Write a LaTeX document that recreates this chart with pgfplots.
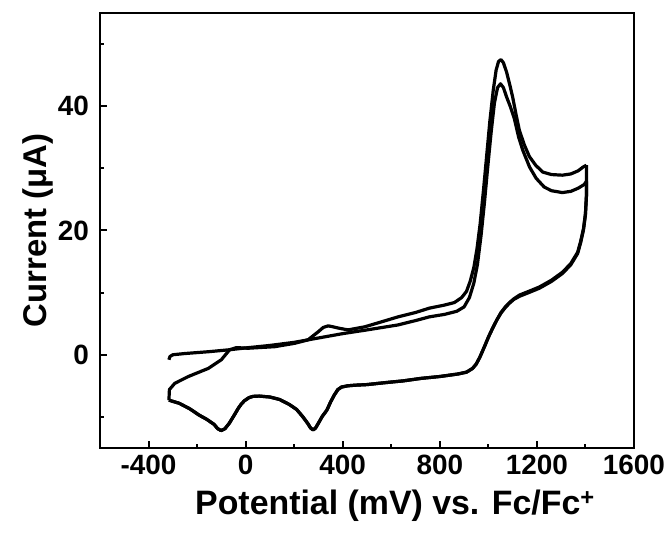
\documentclass[border=0pt]{standalone}
\usepackage{fontspec}
\setmainfont{Liberation Sans}
\usepackage{pgfplots}
\pgfplotsset{compat=1.18}

\newcommand{\tl}[1]{{\fontsize{28}{32}\selectfont\bfseries #1}}

\begin{document}
\begin{tikzpicture}
\begin{axis}[
    width=534bp, height=435bp, scale only axis,
    xmin=-600, xmax=1600, ymin=-15, ymax=55,
    xtick={-400,0,400,800,1200,1600},
    xticklabels={\tl{-400},\tl{0},\tl{400},\tl{800},\tl{1200},\tl{1600}},
    minor xtick={-200,200,600,1000,1400},
    ytick={0,20,40},
    yticklabels={\tl{0},\tl{20},\tl{40}},
    minor ytick={-10,10,30,50},
    tick pos=left, tick align=inside,
    major tick length=7bp, minor tick length=4bp,
    every tick/.style={line width=2bp, black},
    axis line style={line width=2.6bp},
    tick label style={inner sep=2bp},
    xticklabel style={yshift=-5bp},
    yticklabel style={xshift=-9bp},
    every axis x label/.style={at={([xshift=28bp,yshift=-58bp]axis description cs:0.5,0)},
        anchor=center, font=\bfseries\fontsize{34}{39}\selectfont},
    every axis y label/.style={at={([xshift=-62bp]axis description cs:0,0.5)},
        rotate=90, anchor=center, font=\bfseries\fontsize{33}{38}\selectfont},
    xlabel={Potential (mV) vs. Fc/Fc\textsuperscript{+}},
    ylabel={Current (μA)},
]
% cycle 1, forward
\addplot[black, line width=3.2bp, line join=round] coordinates {
(-316,-0.8) (-312,-0.3) (-300,0.0) (-250,0.2) (-150,0.5) (-68,0.8) (0,1.1)
(100,1.5) (200,2.0) (300,2.7) (400,3.4) (500,4.0) (628,4.8) (700,5.5)
(757,6.1) (820,6.5) (870,7.0) (900,7.7) (922,9.2) (940,11.5) (955,14.5)
(970,19.2) (984,24.5) (997,30.0) (1011,35.6) (1025,40.5) (1038,43.0)
(1050,43.6) (1062,43.0) (1075,41.5) (1090,40.0) (1107,38.0) (1125,35.0)
(1142,32.9) (1170,30.2) (1197,28.4) (1230,27.0) (1260,26.4) (1305,26.1)
(1340,26.3) (1370,26.8) (1395,27.4) (1404,27.9)
};
% cycle 1, reverse
\addplot[black, line width=3.2bp, line join=round] coordinates {
(1404,27.9) (1404,25.4) (1400,22.5) (1392,20.1) (1380,18.0) (1368,16.3)
(1340,14.5) (1306,13.1) (1260,11.8) (1210,10.7) (1160,9.9) (1128,9.4)
(1105,8.9) (1087,8.3) (1070,7.6) (1052,6.7) (1035,5.6) (1018,4.3)
(1000,2.8) (985,1.4) (965,-0.4) (950,-1.5) (935,-2.2) (910,-2.8)
(874,-3.1) (800,-3.5) (723,-3.8) (650,-4.2) (572,-4.5) (500,-4.8)
(450,-4.9) (420,-5.0) (395,-5.2) (380,-5.6) (365,-6.5) (350,-7.6)
(335,-8.9) (316,-9.9) (300,-11.0) (288,-11.8) (278,-12.1) (268,-11.8)
(255,-11.0) (234,-9.9) (210,-8.8) (180,-8.0) (140,-7.2) (100,-6.8)
(56,-6.65) (30,-6.7) (14,-6.9) (-5,-7.4) (-19,-8.0) (-30,-8.6) (-45,-9.6)
(-67,-11.0) (-85,-11.9) (-101,-12.2) (-115,-11.9) (-130,-11.2) (-160,-10.4)
(-192,-9.7) (-230,-8.7) (-274,-7.8) (-300,-7.5) (-316,-7.3)
};
% cycle 2, forward
\addplot[black, line width=3.2bp, line join=round] coordinates {
(-316,-7.3) (-314,-5.6) (-292,-4.6) (-236,-3.5) (-154,-2.2) (-100,-0.8)
(-66,0.8) (-38,1.15) (10,1.05) (120,1.3) (203,1.85) (257,2.4) (299,3.7)
(320,4.4) (340,4.65) (360,4.5) (381,4.3) (422,4.0) (491,4.5) (560,5.3)
(628,6.1) (700,6.8) (757,7.5) (820,8.0) (860,8.4) (890,9.2) (910,10.2)
(925,11.8) (940,14.0) (953,17.0) (966,21.0) (980,26.5) (993,32.0)
(1006,37.5) (1020,42.5) (1032,45.8) (1042,47.2) (1052,47.5) (1062,47.0)
(1075,45.5) (1088,43.5) (1100,41.5) (1114,38.7) (1128,36.1) (1148,33.8)
(1169,31.9) (1195,30.5) (1224,29.4) (1260,29.0) (1305,28.9) (1340,29.1)
(1370,29.6) (1390,30.2) (1404,30.5)
};
% cycle 2, reverse
\addplot[black, line width=3.2bp, line join=round] coordinates {
(1404,30.5) (1404,25.6) (1400,22.7) (1392,20.3) (1380,18.2) (1368,16.5)
(1340,14.7) (1306,13.3) (1260,12.0) (1210,10.9) (1160,10.1) (1128,9.6)
(1105,9.0) (1087,8.4) (1070,7.7) (1052,6.8) (1035,5.6) (1018,4.3)
(1000,2.8) (985,1.4) (965,-0.4) (950,-1.5) (935,-2.2) (910,-2.8)
(874,-3.1) (800,-3.5) (723,-3.8) (650,-4.2) (572,-4.5) (500,-4.8)
(450,-4.9) (420,-5.0) (395,-5.2) (380,-5.6) (365,-6.5) (350,-7.6)
(335,-8.9) (316,-9.9) (300,-11.0) (288,-11.8) (278,-12.1) (268,-11.8)
(255,-11.0) (234,-9.9) (210,-8.8) (180,-8.0) (140,-7.2) (100,-6.8)
(56,-6.65) (30,-6.7) (14,-6.9) (-5,-7.4) (-19,-8.0) (-30,-8.6) (-45,-9.6)
(-67,-11.0) (-85,-11.9) (-101,-12.2) (-115,-11.9) (-130,-11.2) (-160,-10.4)
(-192,-9.7) (-230,-8.7) (-274,-7.8) (-300,-7.5) (-316,-7.3)
};
\end{axis}
\path ([shift={(-100bp,-87bp)}]current axis.south west)
      rectangle ([shift={(33bp,13bp)}]current axis.north east);
\end{tikzpicture}
\end{document}
